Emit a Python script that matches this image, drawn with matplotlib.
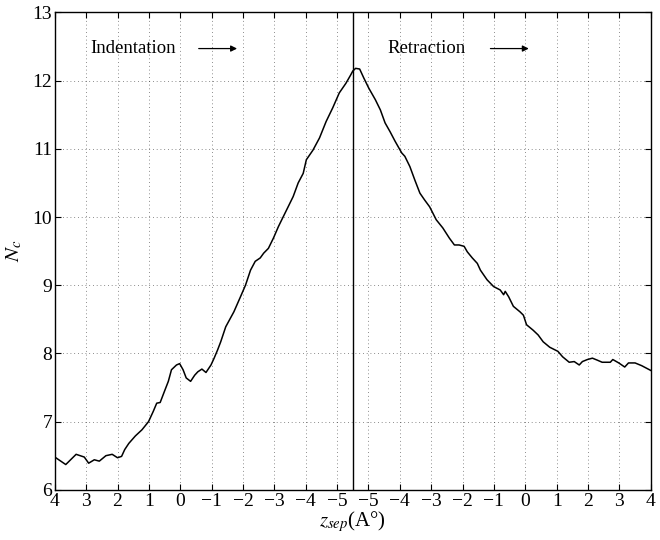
import matplotlib

matplotlib.use("Agg")
import matplotlib.pyplot as plt
import numpy as np

plt.rcParams["font.family"] = ["Liberation Serif", "DejaVu Serif"]
plt.rcParams["mathtext.fontset"] = "stix"

# indentation branch: z_sep goes from 4 down to the turning point
indent_z = [4.0, 3.65, 3.32, 3.06, 2.92, 2.74, 2.58, 2.37, 2.17, 2.0, 1.87, 1.77,
            1.64, 1.43, 1.22, 1.01, 0.86, 0.75, 0.64, 0.49, 0.38, 0.28, 0.12, 0.02,
            -0.09, -0.19, -0.33, -0.46, -0.56, -0.69, -0.82, -0.98, -1.08, -1.19,
            -1.29, -1.45, -1.71, -1.92, -2.08, -2.24, -2.39, -2.55, -2.66, -2.81,
            -2.97, -3.13, -3.29, -3.44, -3.60, -3.76, -3.92, -4.02, -4.23, -4.44,
            -4.65, -4.86, -5.07, -5.28, -5.43, -5.5]
indent_nc = [6.48, 6.37, 6.52, 6.48, 6.39, 6.44, 6.42, 6.50, 6.52, 6.47, 6.49, 6.59,
             6.68, 6.79, 6.88, 7.00, 7.15, 7.27, 7.28, 7.46, 7.59, 7.76, 7.83, 7.85,
             7.76, 7.64, 7.59, 7.68, 7.73, 7.77, 7.72, 7.83, 7.93, 8.05,
             8.17, 8.39, 8.61, 8.83, 9.00, 9.22, 9.35, 9.40, 9.47, 9.54,
             9.69, 9.86, 10.01, 10.15, 10.30, 10.50, 10.64, 10.84, 10.98, 11.16,
             11.40, 11.60, 11.82, 11.96, 12.08, 12.14]

# retraction branch: z_sep goes back from the turning point up to 4
retract_z = [-5.5, -5.41, -5.28, -5.15, -4.99, -4.78, -4.62, -4.47, -4.31, -4.15,
             -3.94, -3.84, -3.68, -3.52, -3.36, -3.21, -3.05, -2.95, -2.84, -2.63,
             -2.42, -2.26, -2.11, -1.95, -1.85, -1.69, -1.53, -1.43, -1.22, -1.01,
             -0.80, -0.69, -0.64, -0.53, -0.38, -0.17, -0.06, 0.04, 0.25, 0.41,
             0.57, 0.78, 1.04, 1.19, 1.40, 1.56, 1.72, 1.82, 1.98, 2.14, 2.30,
             2.45, 2.71, 2.79, 2.98, 3.17, 3.29, 3.50, 3.71, 4.0]
retract_nc = [12.14, 12.18, 12.17, 12.04, 11.89, 11.72, 11.57, 11.38, 11.25, 11.11,
              10.94, 10.89, 10.74, 10.54, 10.35, 10.25, 10.15, 10.06, 9.96, 9.84,
              9.69, 9.59, 9.59, 9.57, 9.49, 9.40, 9.32, 9.22, 9.08, 8.98,
              8.93, 8.86, 8.91, 8.83, 8.69, 8.61, 8.56, 8.42, 8.34, 8.27,
              8.17, 8.09, 8.03, 7.95, 7.87, 7.88, 7.83, 7.88, 7.91, 7.93, 7.90,
              7.87, 7.87, 7.91, 7.86, 7.80, 7.86, 7.86, 7.82, 7.75]

tick_labels = ["4", "3", "2", "1", "0", "\u22121", "\u22122", "\u22123", "\u22124", "\u22125",
               "\u22125", "\u22124", "\u22123", "\u22122", "\u22121", "0", "1", "2", "3", "4"]
z_turn = -5.5

# unfold both branches onto one running axis
x_indent = 4 - np.array(indent_z)
x_retract = 15 + np.array(retract_z)
x_turn = 4 - z_turn

fig = plt.figure(figsize=(6.6, 5.4), dpi=100)
ax = fig.add_axes([0.083, 0.093, 0.903, 0.884])

ax.plot(np.concatenate([x_indent, x_retract]),
        np.concatenate([indent_nc, retract_nc]), color="black", lw=1.1)
ax.axvline(x_turn, color="black", lw=1.0)

ax.set_xlim(0, 19)
ax.set_ylim(6, 13)
ax.set_xticks(range(20))
ax.set_xticklabels(tick_labels)
ax.set_yticks(range(6, 14))
ax.tick_params(direction="in", top=True, right=True, length=4, labelsize=14, pad=2)
ax.grid(True, linestyle=(0, (1, 3.5)), color="black", lw=0.6, alpha=0.6)
for s in ax.spines.values():
    s.set_linewidth(1.0)

ax.set_xlabel(r"$z_{sep}$(A°)", fontsize=15, labelpad=0)
ax.set_ylabel(r"$N_c$", fontsize=15, labelpad=6)

ax.text(1.12, 12.47, "Indentation", fontsize=13.5, va="center", ha="left")
ax.annotate("", xy=(5.9, 12.47), xytext=(4.5, 12.47),
            arrowprops=dict(arrowstyle="-|>", color="black", lw=0.9, mutation_scale=9))
ax.text(10.6, 12.47, "Retraction", fontsize=13.5, va="center", ha="left")
ax.annotate("", xy=(15.2, 12.47), xytext=(13.8, 12.47),
            arrowprops=dict(arrowstyle="-|>", color="black", lw=0.9, mutation_scale=9))

fig.savefig("out.png", dpi=100)
